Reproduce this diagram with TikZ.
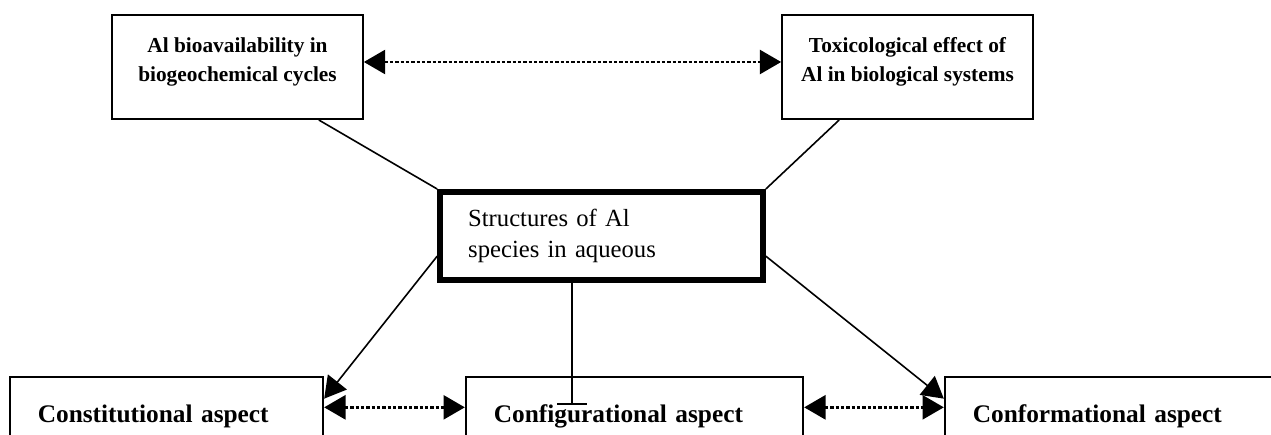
\documentclass[tikz,border=0pt]{standalone}
\usepackage{fontspec}
\setmainfont{Liberation Serif}
\usetikzlibrary{arrows.meta,calc}

\tikzset{
    topbox/.style={draw, line width=1.5pt, minimum width=188pt, minimum height=78pt,
        align=center, text depth=11.5pt, font=\fontsize{16}{22}\selectfont\bfseries},
    aspectbox/.style={draw, line width=1.5pt, minimum height=58.5pt, inner xsep=21pt,
        align=left, font=\fontsize{19}{21}\selectfont\bfseries},
    dotarrow/.style={line width=2pt, dash pattern=on 2.5pt off 1.5pt,
        {Triangle[length=16pt, width=18pt]}-{Triangle[length=16pt, width=18pt]}},
    link/.style={line width=1.2pt},
}

\begin{document}
\begin{tikzpicture}[x=0.75pt, y=-0.75pt]

    % Frame
    \clip (0, 0) rectangle (1271, 435);
    \fill[white] (0, 0) rectangle (1271, 435);

    % Upper boxes
    \node[topbox] (bio) at (237.5, 67) {Al bioavailability in\\biogeochemical cycles};
    \node[topbox] (tox) at (907.5, 67) {Toxicological effect of\\Al in biological systems};

    % Central box
    \node[draw, line width=4.5pt, minimum width=242pt, minimum height=66pt,
        text width=200pt, align=left, font=\fontsize{18.5}{23}\selectfont]
        (struct) at (601.5, 236) {Structures of Al\\species in aqueous};

    % Lower boxes
    \node[aspectbox, text width=193pt] (const) at (166.5, 416) {Constitutional aspect};
    \node[aspectbox, text width=211pt] (config) at (634.5, 416) {Configurational aspect};
    \node[aspectbox, text width=217pt] (conf) at (1117.5, 416) {Conformational aspect};

    % Dotted links between the boxes
    \draw[dotarrow] ([yshift=3.75pt]bio.east) -- ([yshift=3.75pt]tox.west);
    \draw[dotarrow] ([yshift=6.5pt]const.east) -- ([yshift=6.5pt]config.west);
    \draw[dotarrow] ([yshift=6.5pt]config.east) -- ([yshift=6.5pt]conf.west);

    % Links to the central box
    \draw[link] ($(bio.south east)+(-45, 0)$) -- (struct.north west);
    \draw[link] ($(tox.south west)+(58, 0)$) -- (struct.north east);
    \coordinate (tee) at (572, 405);
    \draw[link, -{Bar[width=22pt]}] (struct.south -| tee) -- (tee);
    \draw[link, -{Triangle[length=16pt, width=18pt]}] (struct.187) -- ([yshift=-17pt]const.north east);
    \draw[link, -{Triangle[length=16pt, width=18pt]}] (struct.353) -- ([yshift=-17pt]conf.north west);

\end{tikzpicture}
\end{document}
